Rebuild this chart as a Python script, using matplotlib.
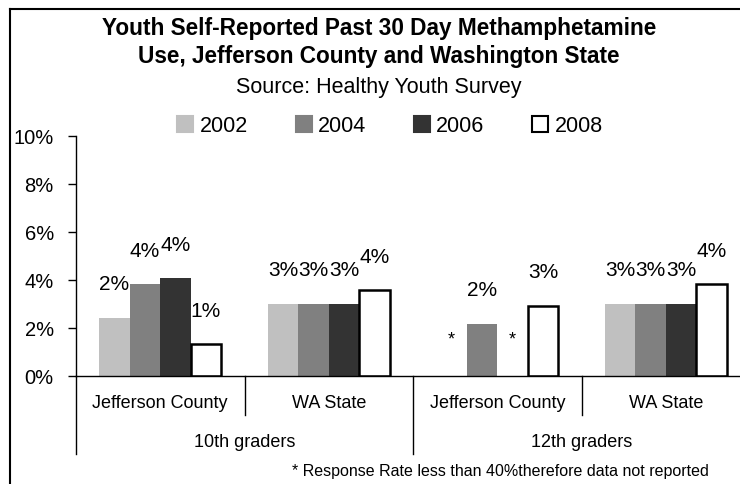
import matplotlib
matplotlib.use("Agg")
import matplotlib.pyplot as plt
from matplotlib.lines import Line2D
from matplotlib.patches import Patch
import numpy as np

plt.rcParams['font.family'] = ['Liberation Sans', 'DejaVu Sans']

categories = ["Jefferson County", "WA State", "Jefferson County", "WA State"]
groups = ["10th graders", "12th graders"]
years = ["2002", "2004", "2006", "2008"]
v2002 = [2.42, 3.0, None, 3.0]
v2004 = [3.83, 3.0, 2.17, 3.0]
v2006 = [4.08, 3.0, None, 3.0]
v2008 = [1.33, 3.57, 2.92, 3.82]
series = [v2002, v2004, v2006, v2008]
colors = ["#C0C0C0", "#808080", "#333333", "#FFFFFF"]
edges = ["none", "none", "none", "black"]
yticks = [0, 2, 4, 6, 8, 10]

W, H = 740, 485
fig = plt.figure(figsize=(W / 100, H / 100), dpi=100)

# axes placement in pixels
ax_l, ax_r, ax_t, ax_b = 76, 750, 137, 377
ax = fig.add_axes([ax_l / W, 1 - ax_b / H, (ax_r - ax_l) / W, (ax_b - ax_t) / H])

x = np.arange(len(categories))
bw = 0.181
for i, (vals, c, e) in enumerate(zip(series, colors, edges)):
    off = (i - 1.5) * bw
    for j, v in enumerate(vals):
        xpos = x[j] + off
        if v is None:
            ax.annotate("*", (xpos, 0), xytext=(0, 27), textcoords="offset points",
                        ha="center", va="center", fontsize=13)
            continue
        ax.bar(xpos, v, width=bw, color=c, edgecolor=e,
               linewidth=1.8 if e != "none" else 0, zorder=2)
        ax.annotate(f"{round(v)}%", (xpos, v), xytext=(0, 24.5), textcoords="offset points",
                    ha="center", va="center", fontsize=15)

ax.set_xlim(-0.5, len(categories) - 0.5)
ax.set_ylim(0, 10)
ax.set_yticks(yticks)
ax.set_yticklabels([f"{t}%" for t in yticks], fontsize=14.5)
ax.tick_params(axis="y", direction="out", length=6, width=1, pad=10)
ax.set_xticks([])
for s in ["top", "right"]:
    ax.spines[s].set_visible(False)
for s in ["left", "bottom"]:
    ax.spines[s].set_linewidth(1)

def ypx(p):
    return (ax_b - p) / (ax_b - ax_t)

xt = ax.get_xaxis_transform()
# category dividers
for k in [0.5, 2.5]:
    ax.plot([k, k], [0, ypx(416)], transform=xt, color="black", lw=1, clip_on=False)
# group dividers
for k in [-0.5, 1.5, 3.5]:
    ax.plot([k, k], [0, ypx(455)], transform=xt, color="black", lw=1, clip_on=False)
for j, c in enumerate(categories):
    ax.text(x[j], ypx(404), c, transform=xt, ha="center", va="center", fontsize=13)
for g, name in enumerate(groups):
    ax.text(2 * g + 0.5, ypx(443), name, transform=xt, ha="center", va="center", fontsize=13)

# title
fig.text(379 / W, 1 - 28 / H, "Youth Self-Reported Past 30 Day Methamphetamine",
         ha="center", va="center", fontsize=16.3, fontweight="bold")
fig.text(379 / W, 1 - 56 / H, "Use, Jefferson County and Washington State",
         ha="center", va="center", fontsize=16.3, fontweight="bold")
fig.text(379 / W, 1 - 88 / H, "Source: Healthy Youth Survey",
         ha="center", va="center", fontsize=15.5)

# legend
handles = [Patch(facecolor=c, edgecolor=("black" if e != "none" else c), linewidth=1.5)
           for c, e in zip(colors, edges)]
leg = fig.legend(handles, years, loc="center", bbox_to_anchor=(390 / W, 1 - 127 / H),
                 ncol=4, frameon=False, fontsize=15.5, handlelength=0.75, handleheight=0.75,
                 handletextpad=0.3, columnspacing=2.2)

# footnote
fig.text(500 / W, 1 - 472 / H, "* Response Rate less than 40%therefore data not reported",
         ha="center", va="center", fontsize=11.5)

# border (left and top edges)
fig.add_artist(Line2D([10 / W, 10 / W], [0, 1 - 10 / H], transform=fig.transFigure, color="black", lw=1.5))
fig.add_artist(Line2D([10 / W, 1], [1 - 10 / H, 1 - 10 / H], transform=fig.transFigure, color="black", lw=1.5))

fig.savefig("out.png", dpi=100)
